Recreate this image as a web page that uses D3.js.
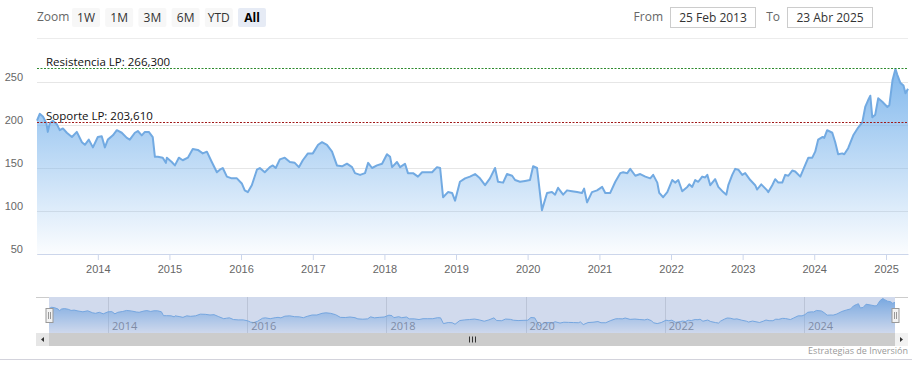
<!DOCTYPE html>
<html>
<head>
<meta charset="utf-8">
<script src="https://cdn.jsdelivr.net/npm/d3@7"></script>
<style>
body { margin: 0; background: #fff; }
svg { display: block; font-family: "Segoe UI", "Open Sans", sans-serif; }
</style>
</head>
<body>
<svg id="chart" width="912" height="375"></svg>
<script>
// price series
let dates = [
    "2013-02-25", "2013-03-11", "2013-03-27", "2013-04-14", "2013-04-21", "2013-05-01", "2013-05-17", "2013-06-06",
    "2013-06-21", "2013-07-07", "2013-07-27", "2013-08-22", "2013-09-16", "2013-10-12", "2013-10-27", "2013-11-16",
    "2013-12-07", "2014-01-01", "2014-01-21", "2014-02-06", "2014-02-21", "2014-03-19", "2014-04-08", "2014-05-03",
    "2014-05-29", "2014-06-13", "2014-07-09", "2014-07-24", "2014-08-13", "2014-08-29", "2014-09-18", "2014-10-08",
    "2014-10-19", "2014-11-03", "2014-11-28", "2014-12-14", "2014-12-19", "2015-01-13", "2015-01-29", "2015-02-18",
    "2015-03-10", "2015-04-05", "2015-04-30", "2015-05-26", "2015-06-20", "2015-07-11", "2015-08-05", "2015-08-31",
    "2015-09-15", "2015-09-30", "2015-10-21", "2015-11-15", "2015-12-11", "2016-01-05", "2016-01-20", "2016-02-05",
    "2016-02-25", "2016-03-22", "2016-04-06", "2016-05-01", "2016-05-27", "2016-06-11", "2016-06-26", "2016-07-17",
    "2016-08-11", "2016-09-06", "2016-10-01", "2016-10-22", "2016-11-11", "2016-12-07", "2017-01-01", "2017-01-28",
    "2017-02-17", "2017-03-14", "2017-04-09", "2017-05-04", "2017-05-30", "2017-06-24", "2017-07-20", "2017-08-04",
    "2017-08-30", "2017-09-24", "2017-10-10", "2017-10-30", "2017-11-24", "2017-12-20", "2018-01-14", "2018-01-30",
    "2018-02-09", "2018-03-06", "2018-03-22", "2018-04-16", "2018-05-01", "2018-05-27", "2018-06-21", "2018-07-12",
    "2018-08-06", "2018-09-01", "2018-09-26", "2018-10-12", "2018-10-27", "2018-11-21", "2018-12-12", "2018-12-27",
    "2019-01-21", "2019-02-16", "2019-03-13", "2019-04-08", "2019-05-03", "2019-05-29", "2019-06-23", "2019-07-19",
    "2019-08-03", "2019-08-29", "2019-09-18", "2019-10-14", "2019-10-29", "2019-11-23", "2019-12-19", "2020-01-13",
    "2020-01-29", "2020-02-18", "2020-03-14", "2020-04-09", "2020-05-04", "2020-05-20", "2020-06-04", "2020-06-30",
    "2020-07-20", "2020-08-14", "2020-09-09", "2020-10-04", "2020-10-15", "2020-10-30", "2020-11-24", "2020-12-20",
    "2021-01-15", "2021-01-31", "2021-02-25", "2021-03-23", "2021-04-17", "2021-05-02", "2021-05-23", "2021-06-07",
    "2021-07-03", "2021-07-28", "2021-08-23", "2021-09-17", "2021-10-02", "2021-10-23", "2021-11-02", "2021-11-22",
    "2021-12-13", "2022-01-07", "2022-01-22", "2022-02-07", "2022-02-27", "2022-03-25", "2022-04-04", "2022-04-19",
    "2022-05-04", "2022-05-20", "2022-06-09", "2022-06-24", "2022-07-05", "2022-07-20", "2022-08-14", "2022-08-30",
    "2022-09-24", "2022-10-10", "2022-10-20", "2022-11-09", "2022-11-24", "2022-12-10", "2022-12-30", "2023-01-14",
    "2023-02-09", "2023-03-06", "2023-03-16", "2023-04-06", "2023-05-06", "2023-05-12", "2023-06-01", "2023-06-16",
    "2023-07-02", "2023-07-22", "2023-08-06", "2023-08-22", "2023-09-11", "2023-09-26", "2023-10-22", "2023-11-06",
    "2023-12-02", "2023-12-22", "2024-01-06", "2024-01-21", "2024-02-11", "2024-02-21", "2024-03-07", "2024-04-02",
    "2024-04-17", "2024-05-02", "2024-05-23", "2024-06-02", "2024-06-22", "2024-07-18", "2024-08-12", "2024-09-02",
    "2024-09-17", "2024-10-02", "2024-10-13", "2024-10-23", "2024-11-07", "2024-11-22", "2024-12-13", "2025-01-08",
    "2025-01-18", "2025-02-03", "2025-02-18", "2025-02-28", "2025-03-15", "2025-03-31", "2025-04-10", "2025-04-23"
]
let prices = [
    205, 213, 210, 202, 192, 202, 205, 201,
    194, 196, 191, 186, 192, 180, 177, 183,
    174, 186, 187, 174, 183, 188, 194, 191,
    185, 183, 191, 193, 188, 192, 192, 186,
    163, 163, 162, 156, 162, 157, 153, 162,
    159, 162, 172, 171, 167, 169, 157, 145,
    148, 150, 140, 138, 138, 132, 124, 122,
    130, 148, 150, 145, 151, 153, 150, 160,
    162, 157, 156, 151, 159, 167, 167, 177,
    180, 177, 169, 153, 152, 155, 151, 144,
    142, 144, 156, 150, 153, 155, 166, 163,
    151, 157, 151, 155, 144, 144, 140, 145,
    145, 145, 151, 150, 116, 122, 121, 112,
    134, 138, 140, 143, 138, 130, 138, 150,
    134, 133, 143, 141, 136, 134, 135, 136,
    152, 150, 101, 121, 122, 119, 127, 119,
    124, 123, 122, 121, 126, 110, 122, 124,
    128, 121, 121, 134, 144, 145, 144, 149,
    141, 143, 140, 138, 142, 133, 121, 116,
    122, 136, 133, 136, 123, 128, 131, 128,
    136, 134, 140, 139, 142, 130, 137, 128,
    122, 119, 130, 142, 149, 148, 142, 144,
    136, 130, 125, 131, 124, 122, 130, 137,
    133, 133, 142, 141, 147, 146, 140, 148,
    162, 162, 169, 183, 186, 185, 194, 191,
    180, 166, 167, 166, 173, 188, 197, 203,
    221, 229, 234, 209, 212, 231, 227, 221,
    223, 252, 265, 258, 249, 246, 237, 242
]

// axis and label settings
let yTickValues = [50, 100, 150, 200, 250]
let plotLineValues = [266.3, 203.61]
let plotLineLabels = ["Resistencia LP: 266,300", "Soporte LP: 203,610"]
let plotLineColors = ["#2e8b2e", "#a01818"]
let zoomButtons = ["1W", "1M", "3M", "6M", "YTD", "All"]
let fromText = "25 Feb 2013"
let toText = "23 Abr 2025"
let creditText = "Estrategias de Inversión"

let parseDate = d3.timeParse("%Y-%m-%d")
let data = dates.map((d, i) => ({ date: parseDate(d), value: prices[i] }))

let svg = d3.select("#chart")
let defs = svg.append("defs")

//plot area
let plotLeft = 37
let plotRight = 908
let plotTop = 39
let plotBottom = 254

let xScale = d3.scaleTime()
    .domain([parseDate("2013-02-25"), parseDate("2025-04-23")])
    .range([plotLeft, plotRight])
let yScale = d3.scaleLinear()
    .domain([50, 300])
    .range([plotBottom, plotTop])

//gradients
let grad = defs.append("linearGradient").attr("id", "areaGrad")
    .attr("x1", 0).attr("y1", 0).attr("x2", 0).attr("y2", 1)
grad.append("stop").attr("offset", "0%").attr("stop-color", "#7cb5ec").attr("stop-opacity", 0.95)
grad.append("stop").attr("offset", "100%").attr("stop-color", "#7cb5ec").attr("stop-opacity", 0.03)

//top separator
svg.append("line")
    .attr("x1", plotLeft).attr("x2", plotRight)
    .attr("y1", 38.5).attr("y2", 38.5)
    .style("stroke", "#ececec")

//y grid and labels
let yAxis = d3.axisLeft(yScale)
    .tickValues(yTickValues)
    .tickSize(-(plotRight - plotLeft))
    .tickPadding(14)
let gy = svg.append("g")
    .attr("transform", "translate(" + plotLeft + ",0)")
    .call(yAxis)
gy.select(".domain").remove()
gy.selectAll(".tick line").style("stroke", "#e6e6e6")
gy.selectAll(".tick text")
    .attr("dy", "-0.15em")
    .style("font-size", "11px")
    .style("fill", "#666")
    .style("font-family", "inherit")

//area + line
let area = d3.area()
    .x(d => xScale(d.date))
    .y0(plotBottom)
    .y1(d => yScale(d.value))
let line = d3.line()
    .x(d => xScale(d.date))
    .y(d => yScale(d.value))

svg.append("path")
    .datum(data)
    .attr("d", area)
    .style("fill", "url(#areaGrad)")
svg.append("path")
    .datum(data)
    .attr("d", line)
    .style("fill", "none")
    .style("stroke", "#72aae2")
    .style("stroke-width", 2)
    .style("stroke-linejoin", "round")

//x axis
let xAxis = d3.axisBottom(xScale)
    .ticks(d3.timeYear.every(1))
    .tickFormat(d3.timeFormat("%Y"))
    .tickSize(6)
    .tickSizeOuter(0)
    .tickPadding(5)
let gx = svg.append("g")
    .attr("transform", "translate(0," + plotBottom + ")")
    .call(xAxis)
gx.select(".domain").style("stroke", "#ccd6eb")
gx.selectAll(".tick line").style("stroke", "#ccd6eb")
gx.selectAll(".tick text")
    .style("font-size", "11px")
    .style("fill", "#666")
    .style("font-family", "inherit")

//plot lines
plotLineValues.forEach(function(v, i) {
    svg.append("line")
        .attr("x1", plotLeft).attr("x2", plotRight)
        .attr("y1", Math.round(yScale(v)) + 0.5).attr("y2", Math.round(yScale(v)) + 0.5)
        .style("stroke", plotLineColors[i])
        .style("stroke-width", 1)
        .style("stroke-dasharray", "2,1.5")
    svg.append("text")
        .attr("x", plotLeft + 9)
        .attr("y", Math.round(yScale(v)) - 2)
        .text(plotLineLabels[i])
        .style("font-size", "11.5px")
        .style("fill", "#111")
})

//range selector buttons
svg.append("text")
    .attr("x", 37).attr("y", 21)
    .text("Zoom")
    .style("font-size", "12px")
    .style("fill", "#666")
let btn = svg.selectAll(".zoom-btn")
    .data(zoomButtons)
    .join("g")
    .attr("class", "zoom-btn")
    .attr("transform", (d, i) => "translate(" + (72 + i * 33.2) + ",8)")
btn.append("rect")
    .attr("width", 28).attr("height", 19).attr("rx", 2)
    .style("fill", d => d === "All" ? "#e6ebf5" : "#f7f7f7")
btn.append("text")
    .attr("x", 14).attr("y", 13.5)
    .attr("text-anchor", "middle")
    .text(d => d)
    .style("font-size", "12px")
    .style("fill", d => d === "All" ? "#000" : "#333")
    .style("font-weight", d => d === "All" ? "bold" : "normal")

//date inputs
let inputs = [["From", fromText, 670], ["To", toText, 787]]
inputs.forEach(function(d) {
    svg.append("text")
        .attr("x", d[2] - 7).attr("y", 21)
        .attr("text-anchor", "end")
        .text(d[0])
        .style("font-size", "12px")
        .style("fill", "#666")
    svg.append("rect")
        .attr("x", d[2] + 0.5).attr("y", 7.5)
        .attr("width", 85).attr("height", 20)
        .style("fill", "#fff")
        .style("stroke", "#cccccc")
    svg.append("text")
        .attr("x", d[2] + 43).attr("y", 21.5)
        .attr("text-anchor", "middle")
        .text(d[1])
        .style("font-size", "12px")
        .style("fill", "#333")
})

//navigator
let navLeft = 49
let navRight = 895
let navTop = 297
let navBottom = 333
let navX = d3.scaleTime()
    .domain(xScale.domain())
    .range([navLeft, navRight])
let navY = d3.scaleLinear()
    .domain([60, 268])
    .range([navBottom, navTop + 1])

let navArea = d3.area()
    .x(d => navX(d.date))
    .y0(navBottom)
    .y1(d => navY(d.value))
let navLine = d3.line()
    .x(d => navX(d.date))
    .y(d => navY(d.value))

let navGrid = d3.timeYear.every(2).range(parseDate("2014-01-01"), parseDate("2025-01-02"))
svg.selectAll(".nav-grid")
    .data(navGrid)
    .join("line")
    .attr("class", "nav-grid")
    .attr("x1", d => Math.round(navX(d)) + 0.5).attr("x2", d => Math.round(navX(d)) + 0.5)
    .attr("y1", navTop).attr("y2", navBottom)
    .style("stroke", "#e0e0e0")

svg.append("path")
    .datum(data)
    .attr("d", navArea)
    .style("fill", "url(#areaGrad)")
svg.append("path")
    .datum(data)
    .attr("d", navLine)
    .style("fill", "none")
    .style("stroke", "#7cb5ec")
    .style("stroke-width", 1)

svg.selectAll(".nav-label")
    .data(navGrid)
    .join("text")
    .attr("class", "nav-label")
    .attr("x", d => navX(d) + 4)
    .attr("y", 330)
    .text(d3.timeFormat("%Y"))
    .style("font-size", "11px")
    .style("fill", "#8a8f99")

//mask (all selected)
svg.append("rect")
    .attr("x", navLeft).attr("y", navTop)
    .attr("width", navRight - navLeft).attr("height", navBottom - navTop)
    .style("fill", "rgba(102,133,194,0.3)")
svg.append("path")
    .attr("d", "M36," + (navTop + 0.5) + "H" + navLeft + "M" + navRight + "," + (navTop + 0.5) + "H908")
    .style("stroke", "#cccccc")

//handles
;[navLeft, navRight].forEach(function(hx) {
    let g = svg.append("g").attr("transform", "translate(" + (hx - 3.5) + ",308)")
    g.append("rect")
        .attr("x", 0.5).attr("y", 0.5)
        .attr("width", 7).attr("height", 14)
        .style("fill", "#f2f2f2")
        .style("stroke", "#999")
    g.append("path")
        .attr("d", "M3,4V11M5,4V11")
        .style("stroke", "#999")
})

//scrollbar
let sbTop = 333
let sbH = 13
svg.append("rect")
    .attr("x", 36).attr("y", sbTop)
    .attr("width", 908 - 36).attr("height", sbH)
    .style("fill", "#f2f2f2")
svg.append("rect")
    .attr("x", navLeft).attr("y", sbTop)
    .attr("width", navRight - navLeft).attr("height", sbH)
    .style("fill", "#cccccc")
svg.append("rect")
    .attr("x", 36).attr("y", sbTop)
    .attr("width", 13).attr("height", sbH)
    .style("fill", "#e6e6e6")
svg.append("rect")
    .attr("x", navRight).attr("y", sbTop)
    .attr("width", 13).attr("height", sbH)
    .style("fill", "#f2f2f2")
svg.append("path")
    .attr("d", "M44,337L41,339.5L44,342Z")
    .style("fill", "#333")
svg.append("path")
    .attr("d", "M900,337L903,339.5L900,342Z")
    .style("fill", "#333")
let mid = Math.round((navLeft + navRight) / 2)
svg.append("path")
    .attr("d", "M" + (mid - 2.5) + ",336.5V342.5M" + (mid + 0.5) + ",336.5V342.5M" + (mid + 3.5) + ",336.5V342.5")
    .style("stroke", "#333")

//credits
svg.append("text")
    .attr("x", 908).attr("y", 354)
    .attr("text-anchor", "end")
    .text(creditText)
    .style("font-size", "9px")
    .style("fill", "#999")

//bottom border
svg.append("line")
    .attr("x1", 0).attr("x2", 912)
    .attr("y1", 359.5).attr("y2", 359.5)
    .style("stroke", "#d3d3dc")
</script>
</body>
</html>
